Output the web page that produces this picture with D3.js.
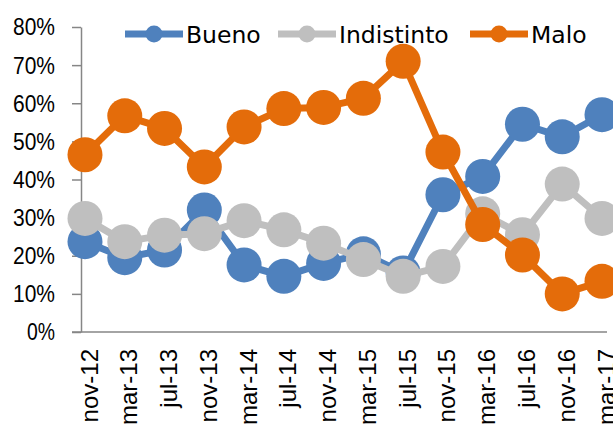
<!DOCTYPE html>
<html>
<head>
<meta charset="utf-8">
<script src="https://cdn.jsdelivr.net/npm/d3@7"></script>
<style>
  html, body { margin: 0; padding: 0; background: #fff; overflow: hidden; }
  svg { display: block; }
</style>
</head>
<body>
<svg id="chart" width="613" height="430"></svg>
<script>
const categories = ["nov-12","mar-13","jul-13","nov-13","mar-14","jul-14","nov-14","mar-15","jul-15","nov-15","mar-16","jul-16","nov-16","mar-17"];
const bueno      = [23.7, 19.5, 21.5, 32.0, 17.6, 14.6, 18.0, 20.5, 15.5, 36.0, 40.8, 54.5, 51.2, 57.0];
const indistinto = [29.8, 23.7, 25.4, 25.8, 29.2, 26.8, 23.3, 19.0, 14.6, 17.2, 31.0, 25.5, 38.8, 29.8];
const malo       = [46.5, 56.7, 53.4, 43.3, 53.8, 58.6, 58.9, 61.3, 71.0, 47.2, 28.2, 20.2, 10.0, 13.3];
const yTicks = [0, 10, 20, 30, 40, 50, 60, 70, 80];
const seriesNames = ["Bueno", "Indistinto", "Malo"];
const seriesColors = ["#4F81BD", "#BFBFBF", "#E46C0A"];
const seriesValues = [bueno, indistinto, malo];

const svg = d3.select("#chart");
const font = "'Liberation Sans', Arial, sans-serif";

const x = d3.scalePoint().domain(categories).range([85, 602]);
const y = d3.scaleLinear().domain([0, 80]).range([332, 27]);

// Y axis
const yAxis = svg.append("g").attr("transform", "translate(81,0)")
  .call(d3.axisLeft(y).tickValues(yTicks).tickSize(9).tickSizeOuter(0).tickFormat(d => d + "%"));
yAxis.select(".domain").attr("stroke", "#868686").attr("stroke-width", 1.5);
yAxis.selectAll(".tick line").attr("stroke", "#868686").attr("stroke-width", 1.5);
yAxis.selectAll(".tick text")
  .attr("x", -26).attr("dy", "0.33em")
  .attr("font-family", font).attr("font-size", 24).attr("fill", "#000")
  .attr("textLength", function() { return this.textContent.length * 14; })
  .attr("lengthAdjust", "spacingAndGlyphs");

// X axis
const xAxis = svg.append("g").attr("transform", "translate(0,332)")
  .call(d3.axisBottom(x).tickSize(0).tickSizeOuter(0));
xAxis.select(".domain").remove();
svg.append("line").attr("x1", 72).attr("x2", 607).attr("y1", 332).attr("y2", 332)
  .attr("stroke", "#868686").attr("stroke-width", 1.5);
xAxis.selectAll(".tick text")
  .attr("transform", "translate(0,17) rotate(-90)")
  .attr("text-anchor", "end")
  .attr("x", 0).attr("y", 0).attr("dy", 12)
  .attr("font-family", font).attr("font-size", 24).attr("fill", "#000");

// Series
seriesValues.forEach((vals, si) => {
  const g = svg.append("g");
  const line = d3.line().x((d, i) => x(categories[i])).y(d => y(d));
  g.append("path").datum(vals).attr("d", line)
    .attr("fill", "none").attr("stroke", seriesColors[si]).attr("stroke-width", 7)
    .attr("stroke-linejoin", "round");
  g.selectAll("circle").data(vals).join("circle")
    .attr("cx", (d, i) => x(categories[i])).attr("cy", d => y(d))
    .attr("r", 17.5).attr("fill", seriesColors[si]);
});

// Legend
const legendX = [125, 278, 470];
const legend = svg.append("g");
seriesNames.forEach((name, i) => {
  const lx = legendX[i];
  legend.append("line").attr("x1", lx).attr("x2", lx + 58).attr("y1", 34).attr("y2", 34)
    .attr("stroke", seriesColors[i]).attr("stroke-width", 7);
  legend.append("circle").attr("cx", lx + 29).attr("cy", 34).attr("r", 8.5).attr("fill", seriesColors[i]);
  legend.append("text").attr("x", lx + 61).attr("y", 42.5)
    .attr("font-family", "'DejaVu Sans', sans-serif").attr("font-size", 23.5).attr("fill", "#000")
    .text(name);
});
</script>
</body>
</html>
